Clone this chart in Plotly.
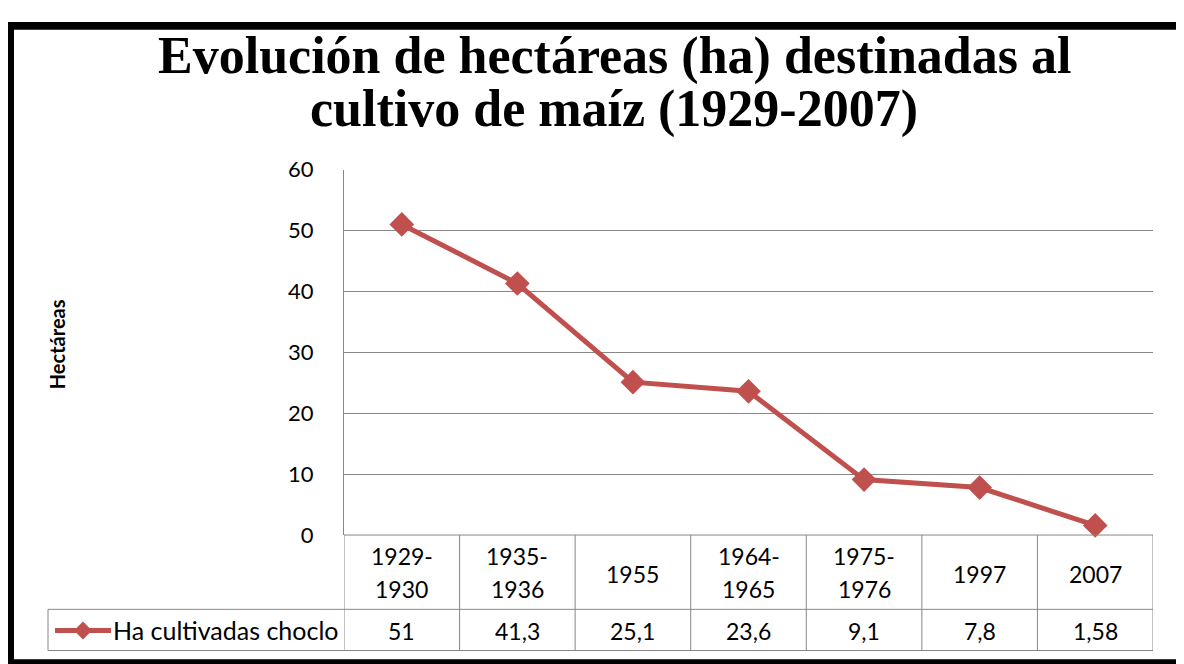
import plotly.graph_objects as go

categories = ["1929-1930", "1935-1936", "1955", "1964-1965", "1975-1976", "1997", "2007"]
category_labels = ["1929-<br>1930", "1935-<br>1936", "1955", "1964-<br>1965", "1975-<br>1976", "1997", "2007"]
values = [51, 41.3, 25.1, 23.6, 9.1, 7.8, 1.58]
value_labels = ["51", "41,3", "25,1", "23,6", "9,1", "7,8", "1,58"]
y_ticks = [0, 10, 20, 30, 40, 50, 60]
series_name = "Ha cultivadas choclo"
title_lines = ["Evolución de hectáreas (ha) destinadas al", "cultivo de maíz (1929-2007)"]

# figure size and the way the page lands in the photographed window
W, H = 1176, 672
OX = 8            # page margin (x)
OY, SY = 23, 0.956  # observed vertical offset / scale of the photo
def px(x): return (x - OX) / W                  # x in window pixels -> paper
def py(y): return 1 - ((y - OY) / SY) / H       # y in window pixels -> paper
def fx(x): return x / W                         # x in figure pixels -> paper
def fy(y): return 1 - y / H                     # y in figure pixels -> paper

RED = "#C0504D"
GRID = "#878787"
FONT = "Lato, sans-serif"
FS = 23

fig = go.Figure()
fig.add_trace(go.Scatter(
    x=list(range(len(categories))), y=values, mode="lines+markers",
    line=dict(color=RED, width=5),
    marker=dict(symbol="diamond", size=19, color=RED),
    name=series_name, showlegend=False, cliponaxis=False,
    text=categories, hoverinfo="text+y",
))

shapes = []
x_left, x_right = 344, 1153
y_top, y_mid, y_bot = 534, 608, 649
def hline(x0, x1, y, xref="paper"):
    shapes.append(dict(type="line", xref=xref, yref="paper", x0=x0, x1=x1, y0=py(y), y1=py(y),
                       line=dict(color=GRID, width=1)))
hline(px(x_left), px(x_right), y_top)
hline(px(48), px(x_right), y_mid)
hline(px(48), px(x_right), y_bot)
shapes.append(dict(type="line", xref="paper", yref="paper", x0=px(48), x1=px(48), y0=py(y_mid), y1=py(y_bot),
                   line=dict(color=GRID, width=1)))
for i in range(len(categories) + 1):
    shapes.append(dict(type="line", xref="x", yref="paper", x0=i - 0.5, x1=i - 0.5, y0=py(y_top), y1=py(y_bot),
                       line=dict(color=GRID, width=1)))

# legend key inside the data table
ly = 629
shapes.append(dict(type="line", xref="paper", yref="paper", x0=px(55), x1=px(111), y0=py(ly), y1=py(ly),
                   line=dict(color=RED, width=5)))
cx, s = 83, 9
shapes.append(dict(type="path", xref="paper", yref="paper",
                   path=f"M {px(cx-s)},{py(ly)} L {px(cx)},{py(ly-s)} L {px(cx+s)},{py(ly)} L {px(cx)},{py(ly+s)} Z",
                   fillcolor=RED, line=dict(color=RED, width=0)))

# black frame
for (x0, y0, x1, y1) in [(0, 0, W, 8), (0, H - 8, W, H), (0, 0, 6, H), (W - 7, 0, W, H)]:
    shapes.append(dict(type="rect", xref="paper", yref="paper", x0=fx(x0), x1=fx(x1), y0=fy(y0), y1=fy(y1),
                       fillcolor="black", line=dict(width=0), layer="above"))

annotations = []
for i, lab in enumerate(category_labels):
    parts = lab.split("<br>")
    ys = [572.5] if len(parts) == 1 else [555, 588]
    for part, yy in zip(parts, ys):
        annotations.append(dict(x=i, xref="x", y=py(yy), yref="paper", text=part, showarrow=False,
                                xanchor="center", yanchor="middle",
                                font=dict(family=FONT, size=FS, color="black")))
for i, lab in enumerate(value_labels):
    annotations.append(dict(x=i, xref="x", y=py(629.5), yref="paper", text=lab, showarrow=False,
                            xanchor="center", yanchor="middle",
                            font=dict(family=FONT, size=FS, color="black")))
annotations.append(dict(x=px(111), y=py(629), xref="paper", yref="paper", text=series_name, showarrow=False,
                        xanchor="left", yanchor="middle", font=dict(family=FONT, size=25, color="black")))
annotations.append(dict(x=px(57), y=py(344), xref="paper", yref="paper", text="<b>Hectáreas</b>", showarrow=False,
                        textangle=-90, xanchor="center", yanchor="middle",
                        font=dict(family=FONT, size=20, color="black")))
for line, yy in zip(title_lines, [57, 110]):
    annotations.append(dict(x=px(614), y=py(yy), xref="paper", yref="paper", text=f"<b>{line}</b>",
                            showarrow=False, xanchor="center", yanchor="middle",
                            font=dict(family="Liberation Serif, serif", size=52, color="black")))

fig.update_layout(
    width=W, height=H,
    margin=dict(l=0, r=0, t=0, b=0),
    paper_bgcolor="white", plot_bgcolor="white",
    showlegend=False,
    xaxis=dict(domain=[px(x_left), px(x_right)], range=[-0.5, len(categories) - 0.5],
               showticklabels=False, showgrid=False, zeroline=False, showline=False),
    yaxis=dict(domain=[py(y_top), py(170)], range=[0, 60], tickvals=y_ticks, showgrid=True,
               gridcolor=GRID, gridwidth=1, zeroline=False, showline=True, linecolor=GRID, linewidth=1,
               ticks="", ticklabelstandoff=25, tickfont=dict(family=FONT, size=22, color="black")),
    shapes=shapes, annotations=annotations,
)

fig.write_html("out.html")
